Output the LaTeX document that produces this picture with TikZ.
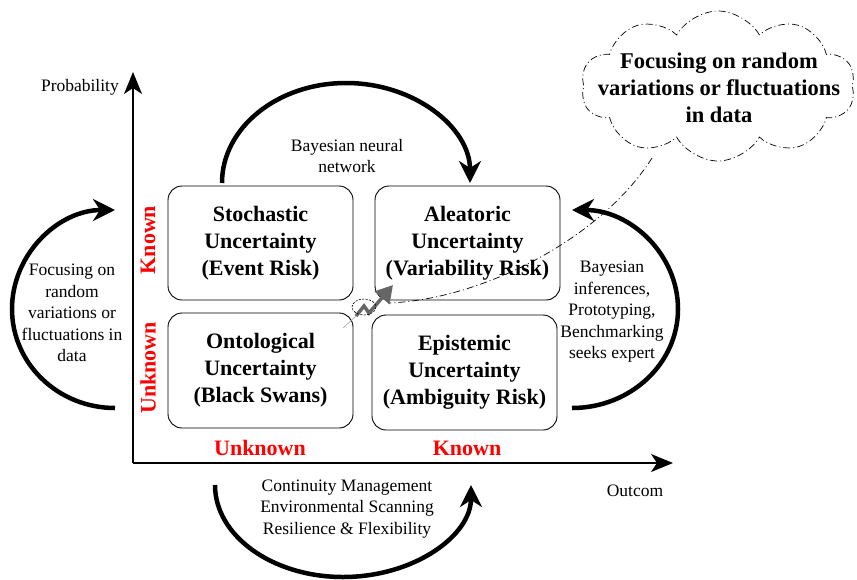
\documentclass[tikz,border=0pt]{standalone}
\usepackage{fontspec}
\setmainfont{Liberation Serif}
\usetikzlibrary{arrows.meta,shapes.symbols}
\definecolor{lblred}{RGB}{255,0,0}
\tikzset{
  box/.style={draw=black, line width=0.9pt, rounded corners=14pt, minimum width=185pt, minimum height=114pt, align=center, font=\fontsize{22}{27}\selectfont\bfseries, inner sep=0pt},
  lbl/.style={align=center, font=\fontsize{17.5}{21.5}\selectfont, inner sep=0pt},
  redlbl/.style={text=lblred, font=\fontsize{22}{27}\selectfont\bfseries, inner sep=0pt},
  axis/.style={line width=1.4pt, -{Stealth[length=22pt,width=18pt,inset=6pt]}},
  bigarc/.style={line width=4.5pt, -{Stealth[length=22pt,width=22pt,inset=7pt]}},
  dashdot/.style={line width=0.7pt, dash pattern=on 7pt off 3pt on 1pt off 3pt},
}
\begin{document}
\begin{tikzpicture}[x=1pt,y=-1pt]
\useasboundingbox (0,0) rectangle (857,579);

% axes
\coordinate (o) at (133,463);
\coordinate (ytip) at (133,72);
\coordinate (xtip) at (673,463);
\draw[axis] (o) -- (ytip);
\draw[axis] (o) -- (xtip);
\node[lbl, anchor=east] (prob) at (119,87) {Probability};
\node[lbl] (outc) at (635,491) {Outcom};

% boxes
\node[box] (sto) at (260.5,243) {Stochastic\\Uncertainty\\(Event Risk)};
\node[box] (ale) at (467.5,243) {Aleatoric\\Uncertainty\\(Variability Risk)};
\node[box, minimum height=115pt] (ont) at (260.5,370.5) {Ontological\\Uncertainty\\(Black Swans)};
\node[box, minimum height=115pt] (epi) at (464.5,372.5) {Epistemic\\Uncertainty\\(Ambiguity Risk)};

% red labels
\node[redlbl, rotate=90] (kv) at (148,240) {Known};
\node[redlbl, rotate=90] (uv) at (148,368) {Unknown};
\node[redlbl] (uh) at (260,448) {Unknown};
\node[redlbl] (kh) at (467,448) {Known};

% big arcs
\coordinate (tops) at (222,183);
\draw[bigarc] (tops) arc[start angle=180, end angle=360, x radius=124, y radius=100];
\node[lbl] (toptxt) at (347,156) {Bayesian neural\\network};

\coordinate (lefts) at (115,408);
\draw[bigarc] (lefts) arc[start angle=90, end angle=270, x radius=103, y radius=99];
\node[lbl] (lefttxt) at (72,313) {Focusing on\\random\\variations or\\fluctuations in\\data};

\coordinate (rights) at (572,408);
\draw[bigarc] (rights) arc[start angle=90, end angle=-90, x radius=106, y radius=99];
\node[lbl] (righttxt) at (612,312) {Bayesian\\inferences,\\Prototyping,\\Benchmarking\\seeks expert};

\coordinate (bots) at (215,485);
\draw[bigarc] (bots) arc[start angle=180, end angle=0, x radius=128, y radius=92];
\node[lbl] (bottxt) at (347,509) {Continuity Management\\Environmental Scanning\\Resilience \& Flexibility};

% cloud callout
\node[cloud, draw=black, dashdot, cloud puffs=10, cloud puff arc=120, aspect=1.85, minimum width=274pt, minimum height=150pt, inner sep=0pt] (cloud) at (718,86) {};
\node[align=center, font=\fontsize{22.5}{27}\selectfont\bfseries, inner sep=0pt] (cloudtxt) at (719,88) {Focusing on random\\variations or fluctuations\\in data};
\coordinate (ptr) at (388,303);
\draw[dashdot] (652,158) .. controls (600,240) and (480,300) .. (ptr);

% small gray arrow
\coordinate (ga) at (343,328);
\coordinate (gb) at (356,316);
\draw[gray!70, line width=0.6pt] (ga) -- (gb);
\draw[gray!80!black, line width=3.5pt, -{Triangle[length=17pt,width=19pt]}] (gb) -- (364,306) -- (369,313) -- (393,285);
\draw[black, line width=0.6pt, dash pattern=on 2pt off 1.5pt] (364,307) ellipse[x radius=12, y radius=8];
\end{tikzpicture}
\end{document}
